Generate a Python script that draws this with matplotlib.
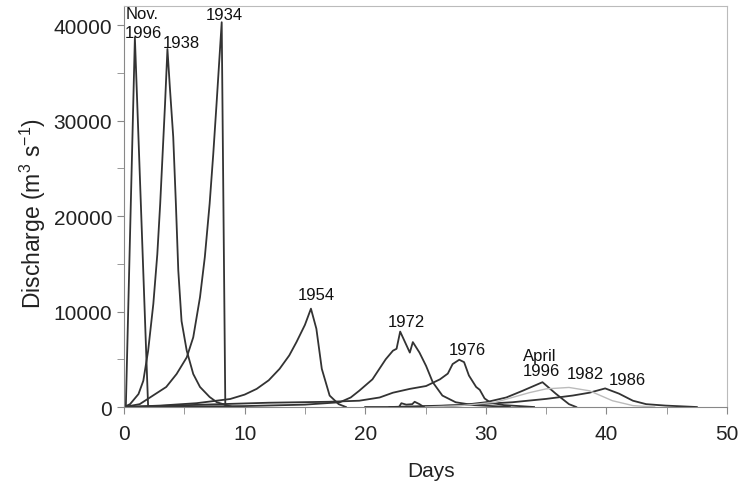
import matplotlib
matplotlib.use('Agg')
import matplotlib.pyplot as plt
from matplotlib.ticker import MultipleLocator

plt.rcParams['font.family'] = ['Liberation Sans', 'DejaVu Sans']
plt.rcParams['mathtext.fontset'] = 'custom'
plt.rcParams['mathtext.rm'] = 'Liberation Sans'
plt.rcParams['mathtext.it'] = 'Liberation Sans:italic'

# Flood hydrographs (days, discharge m3/s)
nov1996_days = [0.15, 0.9, 2.0]
nov1996_q = [0, 38700, 0]

f1938_days = [0, 0.5, 1.2, 1.6, 2.0, 2.43, 2.76, 3.0, 3.2, 3.4, 3.6, 3.8, 4.08, 4.3, 4.5,
              4.77, 5.2, 5.74, 6.3, 7.1, 7.7, 9.0]
f1938_q = [0, 300, 1360, 2750, 5900, 10800, 16000, 21300, 26500, 31700, 37500, 33500,
           28300, 21300, 14300, 9000, 5900, 3460, 2100, 1050, 500, 0]

f1934_days = [0, 1.3, 3.5, 4.36, 5.2, 5.74, 6.3, 6.7, 7.1, 7.4, 7.67, 7.9, 8.1, 8.4]
f1934_q = [0, 300, 2100, 3460, 5200, 7300, 11500, 15700, 21300, 26500, 31700, 36300,
           40300, 0]

f1954_days = [0, 3, 6, 8.8, 10, 11, 12, 12.9, 13.7, 14.3, 15.0, 15.5, 15.95, 16.4, 17.05,
              17.8, 18.4]
f1954_q = [0, 150, 400, 840, 1300, 1900, 2800, 4000, 5400, 6800, 8600, 10300, 8200, 4000,
           1200, 300, 0]

f1972_days = [0, 10, 15, 17.9, 18.8, 19.5, 20.6, 21.7, 22.3, 22.6, 22.9, 23.3, 23.7, 23.95,
              24.5, 25.05, 25.6, 26.4, 27.5, 29, 32]
f1972_q = [0, 100, 250, 500, 1000, 1700, 2900, 5000, 5900, 6100, 7900, 6800, 5700, 6800,
           5700, 4300, 2600, 1200, 500, 200, 0]

f1976_days = [0, 8, 12, 17, 19.5, 21.2, 22.3, 23.7, 25.05, 26.2, 26.85, 27.25, 27.8,
              28.2, 28.6, 29.2, 29.5, 29.9, 30.4, 31.5, 34]
f1976_q = [0, 300, 450, 550, 660, 1000, 1500, 1900, 2200, 2900, 3500, 4500, 4950,
           4700, 3300, 2100, 1800, 900, 450, 200, 0]

apr1996_days = [20, 22.8, 23.0, 23.4, 23.9, 24.1, 24.5, 24.8, 26, 28, 30, 31.7, 33.05,
                34.7, 35.8, 36.9, 37.5]
apr1996_q = [0, 0, 400, 250, 300, 550, 300, 50, 100, 200, 500, 1000, 1700,
             2600, 1400, 300, 0]

f1982_days = [25, 28, 30.8, 32.2, 33.6, 35, 36.9, 38.6, 40.5, 42.2, 44]
f1982_q = [0, 150, 500, 1000, 1500, 1900, 2050, 1700, 660, 150, 0]

f1986_days = [22, 28, 32.2, 35, 37.2, 38.6, 39.9, 41.05, 42.2, 43.3, 44.9, 47.5]
f1986_q = [0, 200, 500, 850, 1200, 1500, 1950, 1400, 660, 300, 150, 0]

# label text and its (day, discharge) position
labels = ['Nov.\n1996', '1938', '1934', '1954', '1972', '1976', 'April\n1996', '1982', '1986']
label_days = [0.1, 4.72, 8.28, 15.98, 23.43, 28.48, 34.6, 38.25, 41.7]
label_q = [40250, 38200, 41150, 11830, 9000, 6070, 4610, 3560, 2900]

dark = '#333333'
fig = plt.figure(figsize=(7.4, 4.89), dpi=100)
ax = fig.add_axes([0.1676, 0.1656, 0.8148, 0.8201])

for d, q in [(nov1996_days, nov1996_q), (f1938_days, f1938_q), (f1934_days, f1934_q),
             (f1954_days, f1954_q), (f1972_days, f1972_q), (f1976_days, f1976_q),
             (apr1996_days, apr1996_q), (f1986_days, f1986_q)]:
    ax.plot(d, q, color=dark, lw=1.3, solid_joinstyle='round')
ax.plot(f1982_days, f1982_q, color='#bbbbbb', lw=1.0)

for t, x, y in zip(labels, label_days, label_q):
    if t.startswith('Nov'):
        ax.text(x, y, t, ha='left', va='center', fontsize=12, color='#111111',
                linespacing=1.3, multialignment='left')
    else:
        ax.text(x, y, t, ha='center', va='center', fontsize=12, color='#111111',
                linespacing=1.05, multialignment='left')

ax.set_xlim(0, 50)
ax.set_ylim(0, 42000)
ax.xaxis.set_major_locator(MultipleLocator(10))
ax.xaxis.set_minor_locator(MultipleLocator(5))
ax.yaxis.set_major_locator(MultipleLocator(10000))
ax.yaxis.set_minor_locator(MultipleLocator(5000))
ax.tick_params(which='both', direction='out', length=5, color='#888888', labelsize=15,
               labelcolor='#222222')
ax.tick_params(axis='x', pad=7)

for s in ['left', 'bottom']:
    ax.spines[s].set_color('#888888')
for s in ['top', 'right']:
    ax.spines[s].set_color('#bbbbbb')

ax.set_xlabel('Days', fontsize=15, color='#222222')
ax.xaxis.set_label_coords(0.509, -0.135)
ax.set_ylabel('Discharge (m$^{3}$ s$^{-1}$)', fontsize=16.5, color='#222222')
ax.yaxis.set_label_coords(-0.126, 0.486)

plt.savefig('out.png', dpi=100)
